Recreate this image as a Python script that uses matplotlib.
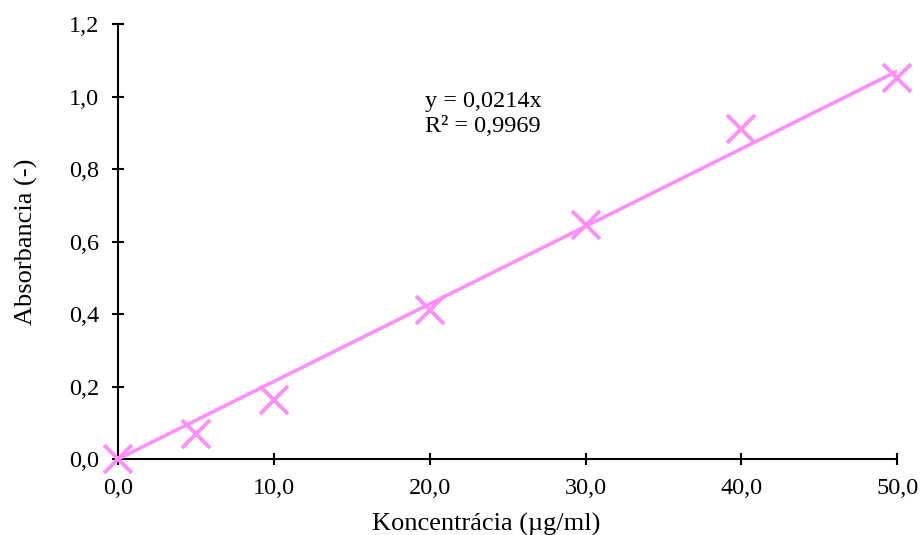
import numpy as np
import matplotlib.pyplot as plt

# Calibration data
concentration = [0, 5, 10, 20, 30, 40, 50]          # ug/ml
absorbance = [0.0, 0.069, 0.163, 0.411, 0.645, 0.910, 1.051]
slope = 0.0214
r_squared = 0.9969

x_ticks = [0, 10, 20, 30, 40, 50]
x_labels = ['0,0', '10,0', '20,0', '30,0', '40,0', '50,0']
y_ticks = [0.0, 0.2, 0.4, 0.6, 0.8, 1.0, 1.2]
y_labels = ['0,0', '0,2', '0,4', '0,6', '0,8', '1,0', '1,2']


def main():
    plt.rcParams['font.family'] = ['Liberation Serif', 'DejaVu Serif']
    plt.rcParams['font.size'] = 17.5

    fig = plt.figure(figsize=(9.23, 5.35), dpi=100)
    ax = fig.add_axes([0.128, 0.142, 0.844, 0.813])

    color = '#FF8FF8'
    fit_x = np.array([concentration[0], concentration[-1]])
    ax.plot(fit_x, slope * fit_x, color=color, lw=2.6, zorder=2)
    ax.plot(concentration, absorbance, linestyle='none', marker='x',
            markersize=20, markeredgewidth=2.8, color=color, zorder=3, clip_on=False)

    ax.set_xlim(0, 50)
    ax.set_ylim(0, 1.2)
    ax.set_xticks(x_ticks)
    ax.set_xticklabels(x_labels)
    ax.set_yticks(y_ticks)
    ax.set_yticklabels(y_labels)
    ax.tick_params(direction='inout', length=9, width=1.5, pad=9)

    for side in ['top', 'right']:
        ax.spines[side].set_visible(False)
    for side in ['left', 'bottom']:
        ax.spines[side].set_linewidth(1.5)
        ax.spines[side].set_zorder(1)

    ax.set_xlabel('Koncentrácia (µg/ml)', fontsize=19)
    ax.xaxis.set_label_coords(0.472, -0.125)
    ax.set_ylabel('Absorbancia (-)', fontsize=19, labelpad=22)

    ax.text(19.7, 0.952, 'y = 0,0214x\nR² = 0,9969',
            va='center', ha='left', linespacing=1.2)

    plt.savefig('out.png', dpi=100)


if __name__ == "__main__":
    main()
